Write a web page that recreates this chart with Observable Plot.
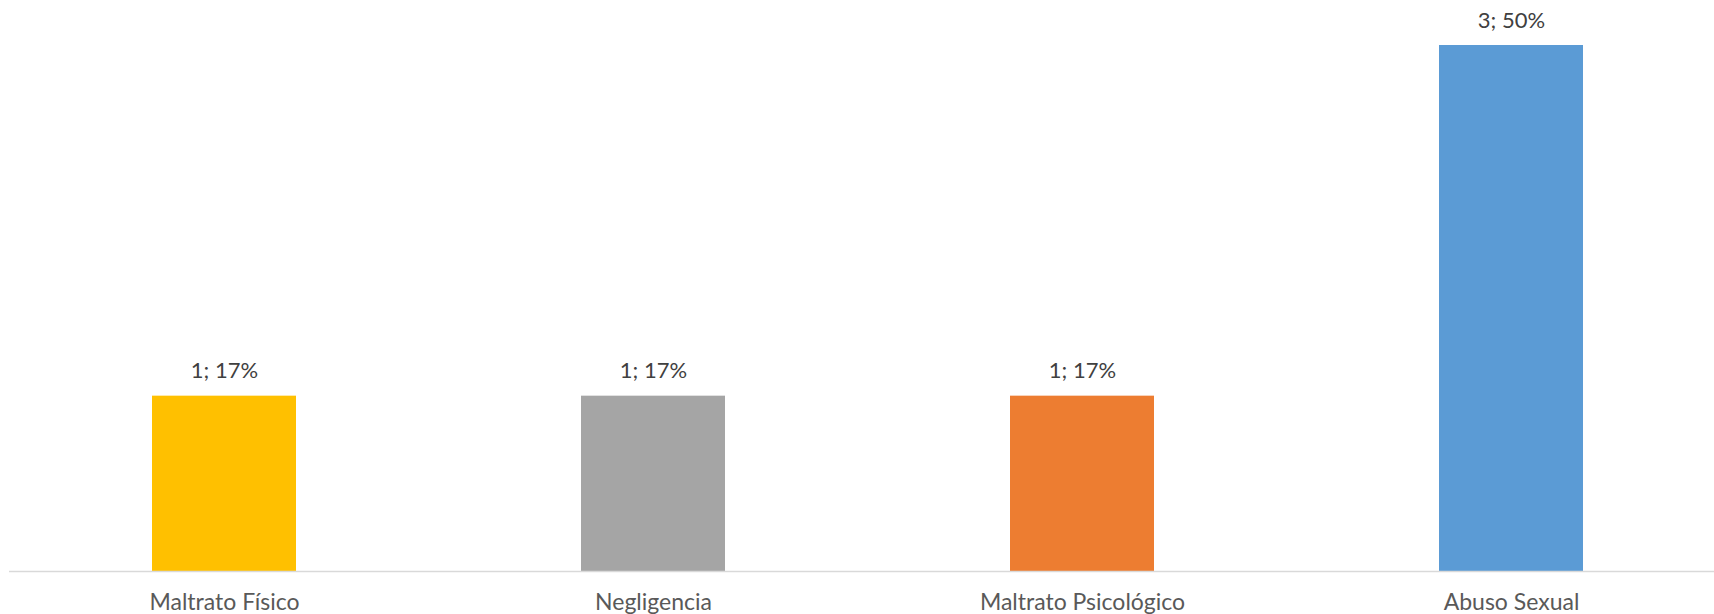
<!DOCTYPE html>
<html>
<head>
<meta charset="utf-8">
<script src="https://cdn.jsdelivr.net/npm/d3@7"></script>
<script src="https://cdn.jsdelivr.net/npm/@observablehq/plot@0.6"></script>
<style>
  html, body { margin: 0; padding: 0; background: #fff; }
  #chart svg { display: block; }
</style>
</head>
<body>
<div id="chart"></div>
<script>
const categories = ["Maltrato Físico", "Negligencia", "Maltrato Psicológico", "Abuso Sexual"];
const counts = [1, 1, 1, 3];
const labels = ["1; 17%", "1; 17%", "1; 17%", "3; 50%"];
const colors = ["#FFC000", "#A5A5A5", "#ED7D31", "#5B9BD5"];

const data = categories.map((c, i) => ({category: c, count: counts[i], label: labels[i]}));

const chart = Plot.plot({
  width: 1714,
  height: 614,
  marginLeft: 9,
  marginRight: 0,
  marginTop: 0,
  marginBottom: 43,
  style: {fontFamily: "Lato, 'Noto Sans', sans-serif", background: "#fff"},
  x: {domain: categories, range: [9.5, 1725.5], paddingInner: 0.664, paddingOuter: 0.332, label: null},
  y: {domain: [0, 3], range: [571, 45], axis: null},
  color: {domain: categories, range: colors},
  marks: [
    Plot.barY(data, {x: "category", y: "count", fill: "category"}),
    Plot.ruleY([0], {stroke: "#d9d9d9", strokeWidth: 1.5}),
    Plot.text(data, {x: "category", y: "count", text: "label", dy: -25, fill: "#404040", fontSize: 22, lineAnchor: "middle"}),
    Plot.axisX({tickSize: 0, tickPadding: 22, fontSize: 23, color: "#595959", label: null})
  ]
});
document.getElementById("chart").appendChild(chart);
</script>
</body>
</html>
